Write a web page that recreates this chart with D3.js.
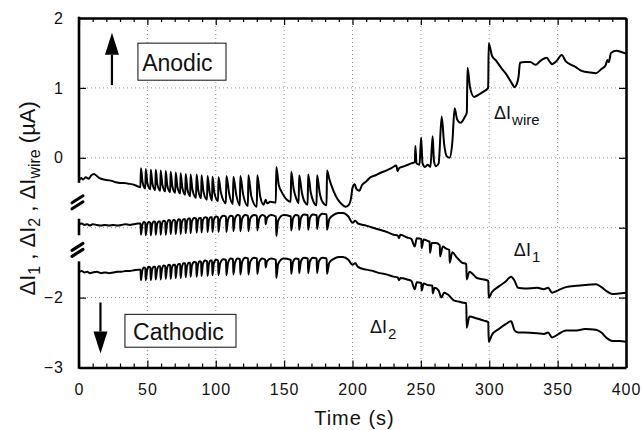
<!DOCTYPE html>
<html>
<head>
  <script src="https://d3js.org/d3.v7.min.js"></script>
  <style>
    html, body { margin: 0; padding: 0; background: #fff; }
    svg { display: block; }
    .tickLabel text { font-family: "Liberation Sans", Arial, sans-serif; font-size: 16px; fill: #111; letter-spacing: 1px; }
    .lbl { font-family: "Liberation Sans", Arial, sans-serif; fill: #111; }
    .grid { stroke: #888; stroke-width: 0.9; stroke-dasharray: 1,3; }
  </style>
</head>
<body>
<script>
const width = 643, height = 430;
const margin = {top: 18, right: 17, bottom: 62.5, left: 79};

// ticks
const xTicks = [0, 50, 100, 150, 200, 250, 300, 350, 400];
const xMinor = [10,20,30,40,60,70,80,90,110,120,130,140,160,170,180,190,210,220,230,240,260,270,280,290,310,320,330,340,360,370,380,390];
const yTicks = [2, 1, 0, -2, -3];
const gridX = [50, 100, 150, 200, 250, 300, 350];
const gridY = [1, 0, -1, -2];
// left axis is broken between the traces
const axisSegments = [[2, -0.34], [-0.89, -1.09], [-1.5, -3]];
const axisBreaks = [-0.63, -1.31];

// time (s), current (uA) - ΔI1 and ΔI2 are offset traces
const wireData = [
[0,-0.32],[1.5,-0.29],[3,-0.31],[5,-0.28],[7,-0.3],[9,-0.25],[11,-0.23],[13,-0.26],[15,-0.29],[18,-0.31],[21,-0.32],[24,-0.33],[27,-0.35],[30,-0.36],[33,-0.36],[36,-0.37],[39,-0.38],[42,-0.4],[44.9,-0.42],
[45.3,-0.15],[46.5,-0.35],[48.5,-0.44],
[48.8,-0.16],[50,-0.36],[52.2,-0.45],
[52.5,-0.17],[53.7,-0.37],[55.8,-0.46],
[56.1,-0.17],[57.3,-0.38],[59.4,-0.47],
[59.7,-0.18],[61,-0.39],[63.1,-0.48],
[63.4,-0.19],[64.6,-0.4],[66.7,-0.49],
[67.0,-0.2],[68.3,-0.41],[70.4,-0.5],
[70.7,-0.21],[72,-0.42],[74,-0.51],
[74.3,-0.22],[75.6,-0.43],[77.7,-0.53],
[78.0,-0.23],[79.3,-0.45],[81.3,-0.55],
[81.6,-0.24],[83,-0.46],[85.6,-0.57],
[86.0,-0.24],[87.3,-0.47],[89.3,-0.58],
[89.6,-0.25],[91,-0.48],[93.6,-0.6],
[94.0,-0.26],[95.5,-0.49],[97.3,-0.61],
[97.6,-0.27],[99,-0.5],[101.7,-0.62],
[102.0,-0.28],[103.8,-0.5],[107.4,-0.65],
[107.8,-0.26],[109.8,-0.51],[112.5,-0.66],
[112.9,-0.27],[115,-0.53],[117.6,-0.68],
[118.0,-0.26],[120,-0.52],[123.5,-0.69],
[123.9,-0.25],[126,-0.55],[130,-0.7],
[130.4,-0.25],[132.5,-0.55],[135,-0.67],[136.5,-0.6],[137.5,-0.65],[140,-0.63],[143.9,-0.64],
[144.3,-0.13],[146,-0.38],[148,-0.48],[150,-0.55],[152,-0.6],[154.8,-0.63],
[155.2,-0.2],[157,-0.45],[159,-0.59],[160.6,-0.65],
[161.0,-0.25],[163,-0.5],[165,-0.63],[167.2,-0.67],
[167.6,-0.24],[169.5,-0.5],[171.5,-0.63],[173.7,-0.68],
[174.1,-0.25],[176,-0.5],[178,-0.63],[181,-0.68],
[181.4,-0.18],[183,-0.3],[186,-0.47],[189,-0.59],[192,-0.66],[195,-0.7],[197,-0.68],[199,-0.57],[200,-0.43],[201.5,-0.38],[203,-0.45],[205,-0.47],[207,-0.39],[210,-0.34],[213,-0.28],[217,-0.25],[221,-0.21],[225,-0.18],[229,-0.14],[232,-0.11],[233,-0.19],[234,-0.15],[238,-0.12],[243,-0.08],
[245.6,-0.06],[246,0.17],[246.8,-0.08],[249,-0.1],[250.2,0.29],[251.2,-0.08],[253,-0.13],[255,-0.1],[257,-0.13],[258.6,0.31],[259.6,-0.05],[261,-0.12],[263,-0.08],[265.2,0.59],[267,0.2],[269,0.02],[271,0.0],[273,0.22],[274.7,0.71],[276.5,0.55],[279,0.5],[282,0.58],[283.6,0.65],
[284.1,1.29],[286,1.0],[289,0.87],[292,0.9],[296,0.95],[299.2,1.0],[299.6,1.64],[302,1.46],[305,1.39],[309,1.28],[313,1.18],[317,1.05],[318.5,1.01],[320,1.05],[321.5,1.17],[322.5,1.36],[326,1.37],[330,1.37],[334,1.33],[337,1.38],[342,1.43],[344,1.38],[346,1.34],[349,1.38],[353,1.47],[356,1.38],[360,1.33],[363,1.3],[368,1.24],[374,1.22],[378,1.21],[382,1.27],[385,1.32],[386.5,1.4],[387.5,1.37],[389,1.5],[393,1.53],[397,1.51],[400,1.49]
];

const i1Data = [
[0,-0.95],[2,-0.94],[4,-0.96],[6,-0.95],[8,-0.97],[10,-0.95],[13,-0.96],[16,-0.97],[19,-0.96],[22,-0.97],[25,-0.96],[28,-0.97],[31,-0.96],[34,-0.95],[37,-0.96],[40,-0.95],[43,-0.94],[45,-0.94],
[45.3,-1.10],[46.3,-0.96],[47.5,-0.92],
[48.5,-0.93],[48.8,-1.11],[49.8,-0.96],[51.0,-0.92],
[52.2,-0.93],[52.5,-1.11],[53.5,-0.95],[54.8,-0.91],
[55.8,-0.92],[56.1,-1.10],[57.1,-0.95],[58.4,-0.91],
[59.4,-0.91],[59.7,-1.10],[60.7,-0.94],[62.0,-0.90],
[63.1,-0.91],[63.4,-1.10],[64.4,-0.94],[65.7,-0.89],
[66.7,-0.90],[67.0,-1.09],[68.0,-0.93],[69.3,-0.89],
[70.4,-0.90],[70.7,-1.09],[71.7,-0.93],[73.0,-0.88],
[74.0,-0.89],[74.3,-1.09],[75.3,-0.92],[76.6,-0.88],
[77.7,-0.88],[78.0,-1.08],[79.0,-0.91],[80.3,-0.87],
[81.3,-0.87],[81.6,-1.08],[82.6,-0.91],[84.2,-0.86],
[85.7,-0.87],[86.0,-1.07],[87.0,-0.90],[88.3,-0.86],
[89.3,-0.86],[89.6,-1.07],[90.6,-0.89],[92.2,-0.85],
[93.7,-0.86],[94.0,-1.06],[95.0,-0.89],[96.2,-0.85],
[97.3,-0.85],[97.6,-1.06],[98.6,-0.89],[100.2,-0.84],
[101.7,-0.85],[102.0,-1.06],[103.2,-0.88],[105.5,-0.83],
[107.5,-0.84],[107.8,-1.06],[109.0,-0.88],[111.0,-0.83],
[112.6,-0.84],[112.9,-1.05],[114.1,-0.87],[116.0,-0.82],
[117.7,-0.83],[118.0,-1.05],[119.3,-0.87],[121.5,-0.82],
[123.6,-0.83],[123.9,-1.05],[125.2,-0.87],[128.0,-0.82],
[130.1,-0.83],[130.4,-1.04],[131.8,-0.87],[134.0,-0.82],[136.2,-0.84],[136.5,-0.95],[137.5,-0.86],[140.5,-0.82],
[144.0,-0.84],[144.3,-1.12],[145.6,-0.90],[149.5,-0.82],
[154.9,-0.84],[155.2,-1.04],[156.5,-0.87],[158.5,-0.82],
[160.7,-0.83],[161.0,-1.03],[162.3,-0.86],[164.5,-0.81],
[167.3,-0.82],[167.6,-1.03],[168.9,-0.86],[171.0,-0.81],
[173.8,-0.82],[174.1,-1.02],[175.4,-0.85],[178.0,-0.80],
[181.1,-0.81],[181.4,-1.03],[183.0,-0.88],[186.0,-0.82],[190.0,-0.79],[193.0,-0.79],[197.0,-0.84],[200.0,-0.93],
[202,-0.9],[204,-0.94],[210,-0.97],[215,-1.0],[220,-1.03],[225,-1.06],[230,-1.1],[233,-1.11],[234,-1.15],[235,-1.1],[240,-1.14],[243,-1.16],
[245.5,-1.27],[247,-1.15],[250.3,-1.16],[250.6,-1.29],[252,-1.17],[255,-1.19],[256.4,-1.2],[256.7,-1.36],[258,-1.22],[261,-1.22],[263.8,-1.25],[264.1,-1.41],[266,-1.27],[268.5,-1.3],[270.8,-1.32],[271.1,-1.5],[273,-1.35],[276,-1.42],[280,-1.5],[283.2,-1.52],
[283.5,-1.74],[285.5,-1.63],[291,-1.72],[296,-1.74],[299.3,-1.76],[299.6,-2.0],[302,-1.92],[307,-1.84],[312,-1.77],[316,-1.7],[318.5,-1.76],[321,-1.86],[326,-1.87],[335,-1.86],[340,-1.88],[343,-1.86],[346,-1.93],[350,-1.9],[356,-1.85],[364,-1.83],[370,-1.82],[378,-1.81],[382,-1.85],[386,-1.91],[390,-1.95],[395,-1.94],[400,-1.93]
];

const i2Data = [
[0,-1.63],[2,-1.62],[4,-1.64],[6,-1.63],[8,-1.65],[10,-1.64],[13,-1.63],[16,-1.65],[19,-1.64],[22,-1.65],[25,-1.64],[28,-1.63],[31,-1.63],[34,-1.62],[37,-1.62],[40,-1.61],[43,-1.6],[45,-1.6],
[45.3,-1.75],[46.3,-1.61],[47.5,-1.57],
[48.5,-1.58],[48.8,-1.75],[49.8,-1.61],[51.0,-1.56],
[52.2,-1.57],[52.5,-1.75],[53.5,-1.60],[54.8,-1.56],
[55.8,-1.56],[56.1,-1.74],[57.1,-1.60],[58.4,-1.55],
[59.4,-1.55],[59.7,-1.74],[60.7,-1.59],[62.0,-1.54],
[63.1,-1.55],[63.4,-1.73],[64.4,-1.58],[65.7,-1.53],
[66.7,-1.54],[67.0,-1.73],[68.0,-1.57],[69.3,-1.53],
[70.4,-1.53],[70.7,-1.72],[71.7,-1.56],[73.0,-1.52],
[74.0,-1.52],[74.3,-1.72],[75.3,-1.56],[76.6,-1.51],
[77.7,-1.51],[78.0,-1.71],[79.0,-1.55],[80.3,-1.50],
[81.3,-1.50],[81.6,-1.70],[82.6,-1.54],[84.2,-1.49],
[85.7,-1.50],[86.0,-1.70],[87.0,-1.53],[88.3,-1.48],
[89.3,-1.49],[89.6,-1.69],[90.6,-1.52],[92.2,-1.47],
[93.7,-1.48],[94.0,-1.69],[95.0,-1.52],[96.2,-1.47],
[97.3,-1.47],[97.6,-1.68],[98.6,-1.51],[100.2,-1.46],
[101.7,-1.47],[102.0,-1.68],[103.2,-1.51],[105.5,-1.45],
[107.5,-1.46],[107.8,-1.68],[109.0,-1.50],[111.0,-1.44],
[112.6,-1.45],[112.9,-1.67],[114.1,-1.50],[116.0,-1.44],
[117.7,-1.45],[118.0,-1.67],[119.3,-1.49],[121.5,-1.43],
[123.6,-1.44],[123.9,-1.67],[125.2,-1.49],[128.0,-1.43],
[130.1,-1.44],[130.4,-1.66],[131.8,-1.49],[134.0,-1.44],[136.2,-1.46],[136.5,-1.57],[137.5,-1.48],[140.5,-1.44],
[144.0,-1.46],[144.3,-1.72],[145.6,-1.52],[149.5,-1.44],
[154.9,-1.46],[155.2,-1.66],[156.5,-1.49],[158.5,-1.44],
[160.7,-1.45],[161.0,-1.65],[162.3,-1.48],[164.5,-1.43],
[167.3,-1.44],[167.6,-1.65],[168.9,-1.48],[171.0,-1.43],
[173.8,-1.44],[174.1,-1.65],[175.4,-1.48],[178.0,-1.43],
[181.1,-1.44],[181.4,-1.66],[183.0,-1.50],[186.0,-1.45],[190.0,-1.42],[193.0,-1.42],[197.0,-1.46],[200.0,-1.53],
[202,-1.51],[204,-1.56],[210,-1.6],[215,-1.62],[220,-1.65],[225,-1.67],[230,-1.7],[233,-1.71],[234,-1.75],[235,-1.72],[240,-1.74],[243,-1.76],
[245.5,-1.88],[247,-1.78],[250.3,-1.79],[250.6,-1.9],[252,-1.8],[255,-1.82],[258.4,-1.83],[258.7,-1.94],[260,-1.86],[263,-1.9],[265,-2.0],[267,-1.93],[270,-1.96],[274,-2.04],[276,-2.05],[280,-2.07],[283.2,-2.08],
[283.5,-2.43],[285.5,-2.27],[291,-2.3],[296,-2.33],[299.3,-2.35],[299.6,-2.63],[302,-2.53],[307,-2.45],[312,-2.38],[316,-2.34],[318.5,-2.47],[321,-2.5],[326,-2.5],[335,-2.51],[340,-2.52],[343,-2.5],[346,-2.57],[350,-2.53],[356,-2.47],[364,-2.47],[370,-2.45],[378,-2.46],[382,-2.5],[386,-2.58],[390,-2.62],[395,-2.62],[400,-2.63]
];

const svg = d3.select("body").append("svg")
  .attr("width", width)
  .attr("height", height);

const x = d3.scaleLinear().domain([0, 400]).range([margin.left, width - margin.right]);
const y = d3.scaleLinear().domain([-3, 2]).range([height - margin.bottom, margin.top]);

// dotted grid
svg.append("g").selectAll("line").data(gridX).join("line")
  .attr("class", "grid")
  .attr("x1", d => x(d)).attr("x2", d => x(d))
  .attr("y1", y(2)).attr("y2", y(-3));
svg.append("g").selectAll("line").data(gridY).join("line")
  .attr("class", "grid")
  .attr("x1", x(0)).attr("x2", x(400))
  .attr("y1", d => y(d)).attr("y2", d => y(d));

// frame + ticks
function frameAxis(g) {
  g.select(".domain").attr("stroke", "#000").attr("stroke-width", 2.6);
  g.selectAll(".tick line").attr("stroke", "#000").attr("stroke-width", 1.2);
}

svg.append("g")
  .attr("class", "tickLabel")
  .attr("transform", `translate(0,${y(-3)})`)
  .call(d3.axisBottom(x).tickValues(xTicks).tickSizeInner(-7).tickSizeOuter(0).tickPadding(16))
  .call(frameAxis);
svg.append("g")
  .attr("transform", `translate(0,${y(-3)})`)
  .call(d3.axisBottom(x).tickValues(xMinor).tickSize(-4).tickFormat(""))
  .call(g => g.select(".domain").remove())
  .call(frameAxis);

svg.append("g")
  .attr("transform", `translate(0,${y(2)})`)
  .call(d3.axisTop(x).tickValues(xTicks).tickSizeInner(-7).tickSizeOuter(0).tickFormat(""))
  .call(frameAxis);
svg.append("g")
  .attr("transform", `translate(0,${y(2)})`)
  .call(d3.axisTop(x).tickValues(xMinor).tickSize(-4).tickFormat(""))
  .call(g => g.select(".domain").remove())
  .call(frameAxis);

svg.append("g")
  .attr("transform", `translate(${x(400)},0)`)
  .call(d3.axisRight(y).tickValues([2, 1, 0, -1, -2, -3]).tickSizeInner(-7).tickSizeOuter(0).tickFormat(""))
  .call(frameAxis);

svg.append("g")
  .attr("class", "tickLabel")
  .attr("transform", `translate(${x(0)},0)`)
  .call(d3.axisLeft(y).tickValues(yTicks).tickSizeInner(-7).tickSizeOuter(0).tickPadding(15)
    .tickFormat(d => d < 0 ? "\u2212" + Math.abs(d) : d))
  .call(g => g.select(".domain").remove())
  .call(frameAxis);

// broken left axis
svg.append("g").selectAll("line").data(axisSegments).join("line")
  .attr("x1", x(0)).attr("x2", x(0))
  .attr("y1", d => y(d[0]) - 1.3).attr("y2", d => y(d[1]) + 1.3)
  .attr("stroke", "#000").attr("stroke-width", 2.6);
const brk = svg.append("g").selectAll("g").data(axisBreaks).join("g")
  .attr("transform", d => `translate(${x(0) - 1},${y(d)})`);
brk.selectAll("line").data([-3, 3]).join("line")
  .attr("x1", -6).attr("x2", 5)
  .attr("y1", d => d + 4).attr("y2", d => d - 3)
  .attr("stroke", "#000").attr("stroke-width", 3)
  .attr("stroke-linecap", "round");

// traces
const line = d3.line().x(d => x(d[0])).y(d => y(d[1])).curve(d3.curveMonotoneX);
svg.append("g").selectAll("path").data([wireData, i1Data, i2Data]).join("path")
  .attr("d", line)
  .attr("fill", "none")
  .attr("stroke", "#000")
  .attr("stroke-width", 2)
  .attr("stroke-linejoin", "round");

// annotation boxes and arrows
function box(x0, x1, v0, v1, tx, tv, label) {
  svg.append("rect")
    .attr("x", x(x0)).attr("y", y(v0))
    .attr("width", x(x1) - x(x0)).attr("height", y(v1) - y(v0))
    .attr("fill", "#fff").attr("stroke", "#222").attr("stroke-width", 1.1);
  svg.append("text").attr("class", "lbl")
    .attr("x", x(tx)).attr("y", y(tv))
    .attr("font-size", 23)
    .text(label);
}
box(43.1, 107.5, 1.64, 1.11, 46.2, 1.24, "Anodic");
box(33.6, 114.8, -2.24, -2.71, 39.5, -2.61, "Cathodic");

function arrow(t, vFrom, vTip) {
  const dir = vTip > vFrom ? -1 : 1;
  const tipY = y(vTip), baseY = tipY - dir * 22;
  svg.append("line")
    .attr("x1", x(t)).attr("x2", x(t))
    .attr("y1", y(vFrom)).attr("y2", baseY)
    .attr("stroke", "#000").attr("stroke-width", 2.2);
  svg.append("path")
    .attr("d", `M${x(t)},${tipY}L${x(t) - 7},${baseY}L${x(t) + 7},${baseY}Z`)
    .attr("fill", "#000");
}
arrow(24.1, 1.04, 1.79);
arrow(15.7, -2.07, -2.8);

// trace labels
function traceLabel(t, v, sub) {
  const tx = svg.append("text").attr("class", "lbl")
    .attr("x", x(t)).attr("y", y(v)).attr("font-size", 18);
  tx.append("tspan").text("\u0394I");
  tx.append("tspan").attr("dy", 6).attr("dx", 1).attr("font-size", 15).text(sub);
}
traceLabel(303.5, 0.56, "wire");
traceLabel(318, -1.41, "1");
traceLabel(212.8, -2.5, "2");

// axis titles
svg.append("text").attr("class", "lbl")
  .attr("x", (x(0) + x(400)) / 2 + 2).attr("y", 425)
  .attr("text-anchor", "middle")
  .attr("font-size", 20)
  .attr("letter-spacing", 1)
  .text("Time (s)");

const yl = svg.append("text").attr("class", "lbl")
  .attr("transform", `translate(35,${y(-0.58)}) rotate(-90)`)
  .attr("text-anchor", "middle")
  .attr("font-size", 22);
yl.append("tspan").text("\u0394I");
yl.append("tspan").attr("dy", 5).attr("font-size", 16).text("1");
yl.append("tspan").attr("dy", -5).text(" , \u0394I");
yl.append("tspan").attr("dy", 5).attr("font-size", 16).text("2");
yl.append("tspan").attr("dy", -5).text(" , \u0394I");
yl.append("tspan").attr("dy", 5).attr("font-size", 16).text("wire");
yl.append("tspan").attr("dy", -5).text(" (\u00B5A)");
</script>
</body>
</html>
